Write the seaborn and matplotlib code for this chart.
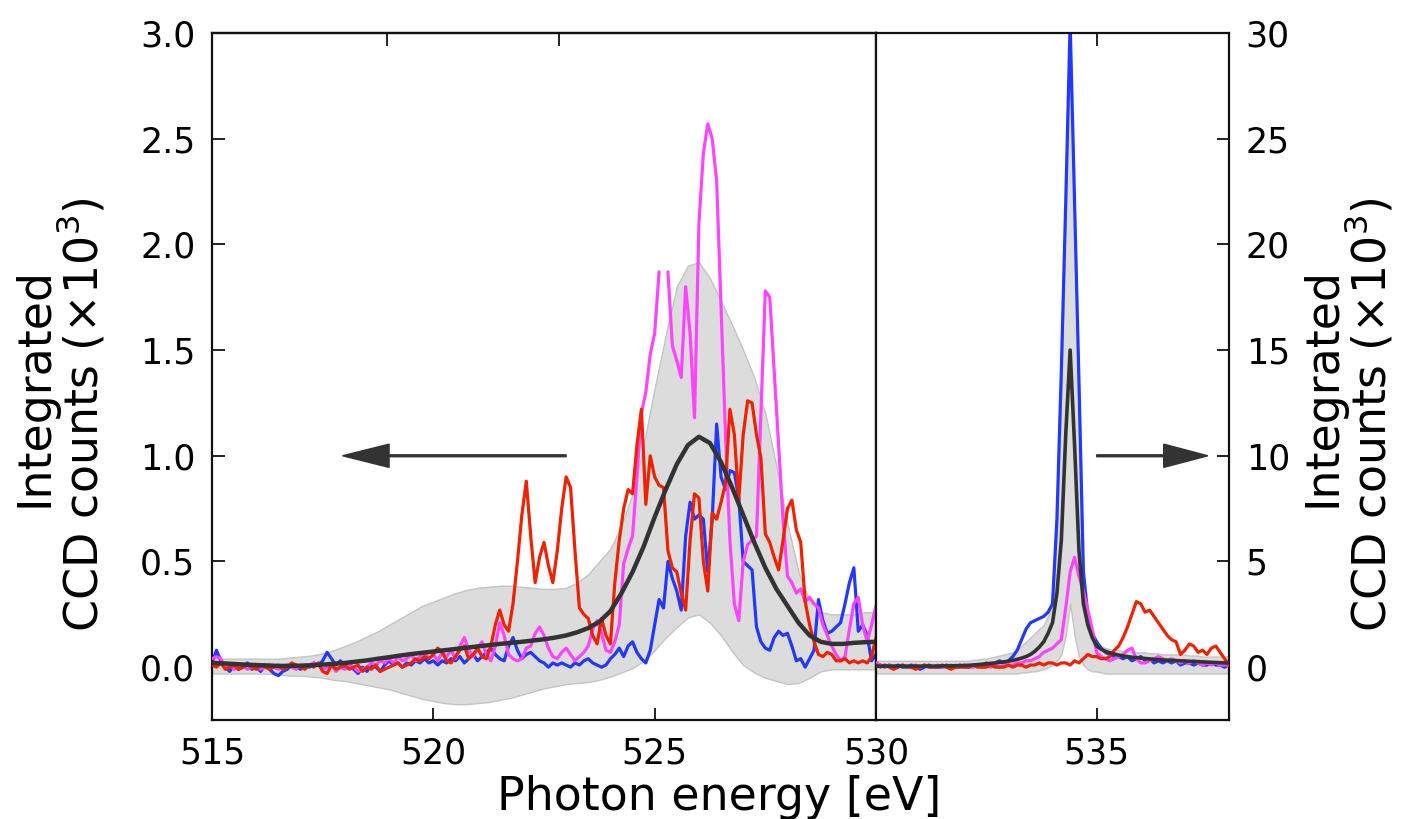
import numpy as np
import pandas as pd
import matplotlib
matplotlib.use("Agg")
import matplotlib.pyplot as plt
import seaborn as sns

# ---------------- data ----------------
energy_left = np.round(np.arange(515.0, 530.05, 0.1), 1)        # 151 points
energy_left_smooth = np.round(np.arange(515.0, 530.01, 0.25), 2)  # 61 points
energy_right = np.round(np.arange(530.0, 538.05, 0.1), 1)       # 81 points

blue_left = [
    0.02, 0.08, 0.03, 0.00, -0.02, 0.01, -0.01, 0.00, 0.02, -0.01,
    0.00, -0.02, 0.01, -0.01, -0.03, -0.04, -0.02, -0.01, 0.01, 0.00,
    -0.01, 0.01, 0.00, 0.02, 0.01, 0.03, 0.07, 0.04, 0.01, 0.03,
    0.00, 0.02, -0.01, -0.03, 0.00, -0.02, 0.01, 0.00, -0.02, 0.01,
    0.03, 0.01, 0.02, 0.00, 0.02, 0.01, 0.03, 0.02, 0.04, 0.02,
    0.03, 0.01, 0.03, 0.02, 0.04, 0.03, 0.05, 0.02, 0.04, 0.06,
    0.03, 0.05, 0.07, 0.09, 0.06, 0.04, 0.03, 0.10, 0.14, 0.08,
    0.04, 0.06, 0.07, 0.05, 0.03, 0.02, 0.00, 0.02, 0.01, 0.02,
    0.01, 0.00, 0.02, 0.01, 0.03, 0.04, 0.02, 0.01, 0.00, 0.01,
    0.04, 0.06, 0.09, 0.05, 0.10, 0.12, 0.07, 0.04, 0.02, 0.08,
    0.20, 0.32, 0.28, 0.50, 0.42, 0.36, 0.27, 0.62, 0.78, 0.70,
    0.72, 0.70, 0.45, 0.70, 1.15, 0.90, 0.84, 0.93, 0.92, 0.80,
    0.50, 0.48, 0.46, 0.19, 0.12, 0.09, 0.08, 0.14, 0.17, 0.15,
    0.16, 0.10, 0.03, 0.04, 0.00, 0.04, 0.08, 0.32, 0.22, 0.16,
    0.17, 0.19, 0.21, 0.30, 0.40, 0.47, 0.17, 0.20, 0.15, 0.03,
    0.06,
]

magenta_left = [
    0.04, 0.05, 0.04, 0.00, 0.01, -0.01, 0.00, 0.01, -0.01, 0.00,
    0.01, -0.01, 0.00, 0.01, 0.00, -0.01, 0.00, 0.01, 0.00, -0.01,
    0.01, 0.00, 0.01, 0.02, 0.01, -0.01, 0.00, 0.01, -0.02, 0.00,
    -0.01, 0.01, 0.00, -0.02, -0.01, 0.00, 0.02, 0.01, 0.03, 0.02,
    0.04, 0.02, 0.05, 0.03, 0.04, 0.06, 0.03, 0.05, 0.07, 0.04,
    0.06, 0.03, 0.07, 0.05, 0.08, 0.04, 0.10, 0.14, 0.08, 0.05,
    0.09, 0.12, 0.06, 0.03, 0.10, 0.21, 0.15, 0.06, 0.04, 0.03,
    0.04, 0.09, 0.10, 0.16, 0.19, 0.15, 0.09, 0.05, 0.04, 0.07,
    0.09, 0.06, 0.03, 0.05, 0.07, 0.10, 0.18, 0.22, 0.16, 0.08,
    0.07, 0.12, 0.20, 0.49, 0.56, 0.62, 0.90, 1.20, 1.30, 1.48,
    1.58, 1.87, np.nan, 1.87, 1.52, 1.45, 1.37, 1.80, 1.58, 1.18,
    2.10, 2.43, 2.57, 2.50, 2.30, 1.70, 1.10, 0.60, 0.30, 0.22,
    0.50, 0.58, 0.60, 0.62, 1.20, 1.78, 1.75, 1.40, 1.05, 0.70,
    0.43, 0.40, 0.35, 0.37, 0.31, 0.33, 0.30, 0.28, 0.20, 0.15,
    0.10, 0.06, 0.03, 0.05, 0.18, 0.30, 0.33, 0.20, 0.12, 0.20,
    0.29,
]

red_left = [
    0.01, 0.00, 0.02, -0.01, 0.00, 0.01, -0.01, 0.00, 0.01, 0.00,
    -0.01, 0.01, 0.00, -0.01, 0.00, 0.01, -0.01, 0.00, 0.02, 0.01,
    0.00, -0.01, 0.01, 0.00, 0.02, -0.02, -0.03, 0.01, -0.01, 0.00,
    0.01, -0.01, 0.00, 0.01, -0.02, 0.00, -0.01, 0.01, -0.02, -0.01,
    0.00, 0.01, 0.02, 0.00, 0.01, 0.02, 0.04, 0.03, 0.05, 0.04,
    0.06, 0.09, 0.07, 0.03, 0.02, 0.05, 0.08, 0.10, 0.04, 0.06,
    0.09, 0.05, 0.04, 0.10, 0.20, 0.27, 0.20, 0.17, 0.30, 0.50,
    0.72, 0.88, 0.62, 0.40, 0.52, 0.59, 0.48, 0.40, 0.55, 0.75,
    0.90, 0.85, 0.55, 0.28, 0.25, 0.23, 0.15, 0.11, 0.23, 0.15,
    0.11, 0.40, 0.60, 0.75, 0.84, 0.82, 1.05, 1.22, 0.77, 1.00,
    0.90, 0.86, 0.85, 0.55, 0.47, 0.45, 0.35, 0.27, 0.60, 0.82,
    0.80, 0.50, 0.36, 0.73, 0.70, 0.78, 0.87, 1.22, 1.10, 0.79,
    1.10, 1.26, 1.25, 1.10, 0.99, 0.63, 0.59, 0.52, 0.46, 0.60,
    0.75, 0.79, 0.65, 0.59, 0.31, 0.20, 0.12, 0.06, 0.05, 0.07,
    0.06, 0.03, 0.03, 0.04, 0.02, 0.03, 0.02, 0.03, 0.02, 0.05,
    0.14,
]

mean_left = [
    0.020, 0.018, 0.015, 0.012, 0.010,
    0.008, 0.006, 0.006, 0.007, 0.009,
    0.012, 0.016, 0.020, 0.026, 0.032,
    0.040, 0.047, 0.055, 0.062, 0.068,
    0.074, 0.080, 0.086, 0.092, 0.098,
    0.104, 0.110, 0.115, 0.120, 0.126,
    0.132, 0.140, 0.150, 0.165, 0.185,
    0.215, 0.265, 0.350, 0.450, 0.570,
    0.710, 0.840, 0.960, 1.050, 1.090,
    1.060, 0.970, 0.850, 0.720, 0.590,
    0.470, 0.370, 0.290, 0.210, 0.150,
    0.120, 0.110, 0.110, 0.115, 0.118,
    0.120,
]

upper_left = [
    0.040, 0.040, 0.040, 0.040, 0.040,
    0.040, 0.040, 0.045, 0.050, 0.055,
    0.065, 0.080, 0.100, 0.120, 0.145,
    0.170, 0.200, 0.230, 0.260, 0.290,
    0.310, 0.330, 0.350, 0.365, 0.375,
    0.380, 0.385, 0.385, 0.380, 0.375,
    0.370, 0.370, 0.375, 0.400, 0.440,
    0.500, 0.560, 0.670, 0.820, 1.050,
    1.320, 1.570, 1.800, 1.900, 1.915,
    1.840, 1.730, 1.620, 1.500, 1.370,
    1.200, 0.950, 0.680, 0.450, 0.310,
    0.260, 0.250, 0.250, 0.250, 0.260,
    0.260,
]

lower_left = [
    -0.030, -0.030, -0.030, -0.030, -0.030,
    -0.030, -0.035, -0.040, -0.040, -0.045,
    -0.050, -0.060, -0.065, -0.075, -0.085,
    -0.095, -0.105, -0.120, -0.135, -0.150,
    -0.160, -0.170, -0.175, -0.175, -0.170,
    -0.165, -0.155, -0.145, -0.130, -0.115,
    -0.100, -0.090, -0.080, -0.075, -0.070,
    -0.060, -0.045, -0.025, -0.005, 0.030,
    0.080, 0.140, 0.190, 0.235, 0.250,
    0.210, 0.150, 0.075, 0.010, -0.025,
    -0.050, -0.065, -0.080, -0.075, -0.050,
    -0.020, -0.010, -0.010, -0.010, -0.010,
    -0.010,
]

blue_right = [
    0.2, 0.1, 0.0, 0.1, 0.0, 0.1, 0.0, 0.0, 0.1, 0.0,
    -0.1, 0.0, 0.1, 0.0, 0.0, 0.0, 0.1, 0.0, 0.0, 0.1,
    0.0, 0.0, 0.1, 0.1, 0.0, 0.2, 0.1, 0.2, 0.3, 0.2,
    0.3, 0.5, 0.8, 1.3, 1.8, 2.1, 2.2, 2.3, 2.4, 2.6,
    3.0, 7.0, 14.0, 22.0, 30.5, 22.0, 13.5, 4.5, 2.5, 1.6,
    1.2, 0.9, 0.7, 0.6, 0.5, 0.5, 0.4, 0.5, 0.3, 0.4,
    0.5, 0.3, 0.4, 0.2, 0.3, 0.2, 0.3, 0.2, 0.3, 0.1,
    0.2, 0.2, 0.1, 0.2, 0.1, 0.1, 0.2, 0.1, 0.1, 0.0,
    0.1,
]

magenta_right = [
    0.2, 0.1, 0.0, 0.1, 0.0, 0.0, 0.1, 0.0, 0.0, 0.1,
    0.0, 0.1, 0.0, 0.0, 0.1, 0.0, 0.0, 0.1, 0.0, 0.0,
    0.1, 0.0, 0.0, 0.1, 0.0, 0.1, 0.0, 0.1, 0.0, 0.1,
    0.1, 0.1, 0.2, 0.2, 0.3, 0.3, 0.4, 0.5, 0.7, 0.8,
    0.9, 1.1, 1.3, 2.8, 4.5, 5.2, 4.3, 3.6, 2.7, 1.8,
    0.7, 0.5, 0.4, 0.3, 0.4, 0.5, 0.6, 0.8, 0.9, 0.4,
    0.2, 0.2, 0.3, 0.4, 0.5, 0.4, 0.3, 0.4, 0.3, 0.2,
    0.3, 0.2, 0.3, 0.2, 0.1, 0.2, 0.1, 0.2, 0.1, 0.1,
    0.1,
]

red_right = [
    0.1, 0.0, 0.1, 0.0, -0.1, 0.0, 0.1, 0.0, 0.0, -0.1,
    0.0, 0.1, 0.0, 0.0, 0.0, 0.1, 0.0, -0.1, 0.0, 0.0,
    0.0, 0.0, 0.1, 0.0, 0.0, 0.0, 0.1, 0.0, 0.0, 0.0,
    0.1, 0.0, 0.1, 0.1, 0.0, 0.1, 0.1, 0.2, 0.1, 0.2,
    0.2, 0.1, 0.2, 0.2, 0.1, 0.3, 0.2, 0.4, 0.6, 0.5,
    0.5, 0.4, 0.4, 0.5, 0.8, 1.0, 1.4, 1.9, 2.5, 3.1,
    3.0, 2.6, 2.7, 2.4, 2.1, 1.8, 1.5, 1.3, 1.2, 0.6,
    0.8, 1.1, 1.0, 0.7, 0.8, 0.6, 0.9, 1.0, 0.7, 0.4,
    0.1,
]

mean_right = [
    0.05, 0.05, 0.05, 0.05, 0.05, 0.05, 0.05, 0.05, 0.05, 0.05,
    0.05, 0.05, 0.05, 0.05, 0.05, 0.06, 0.06, 0.06, 0.07, 0.07,
    0.08, 0.09, 0.10, 0.12, 0.14, 0.16, 0.18, 0.20, 0.22, 0.25,
    0.28, 0.32, 0.37, 0.43, 0.50, 0.60, 0.75, 0.95, 1.20, 1.60,
    2.10, 3.50, 6.00, 11.0, 15.0, 10.5, 5.50, 3.00, 2.00, 1.40,
    1.00, 0.85, 0.75, 0.68, 0.62, 0.57, 0.53, 0.50, 0.47, 0.45,
    0.43, 0.41, 0.39, 0.37, 0.35, 0.34, 0.33, 0.32, 0.31, 0.30,
    0.29, 0.28, 0.27, 0.26, 0.25, 0.24, 0.23, 0.22, 0.21, 0.20,
    0.20,
]

upper_right = [
    0.3, 0.3, 0.3, 0.3, 0.3, 0.3, 0.3, 0.3, 0.3, 0.3,
    0.3, 0.3, 0.3, 0.3, 0.3, 0.3, 0.3, 0.3, 0.3, 0.3,
    0.3, 0.3, 0.35, 0.35, 0.4, 0.4, 0.45, 0.5, 0.55, 0.6,
    0.65, 0.7, 0.8, 1.0, 1.2, 1.4, 1.6, 1.8, 2.0, 2.4,
    3.0, 6.5, 13.5, 21.5, 29.5, 21.0, 13.0, 4.5, 2.3, 1.5,
    1.2, 1.0, 0.9, 0.85, 0.8, 0.8, 0.75, 0.75, 0.7, 0.7,
    0.7, 0.7, 0.65, 0.65, 0.65, 0.6, 0.6, 0.6, 0.6, 0.6,
    0.6, 0.55, 0.55, 0.55, 0.5, 0.5, 0.5, 0.5, 0.5, 0.5,
    0.5,
]

lower_right = [
    -0.3, -0.3, -0.3, -0.3, -0.3, -0.3, -0.3, -0.3, -0.3, -0.3,
    -0.3, -0.3, -0.3, -0.3, -0.3, -0.3, -0.3, -0.3, -0.3, -0.3,
    -0.3, -0.3, -0.3, -0.3, -0.3, -0.3, -0.3, -0.3, -0.3, -0.3,
    -0.3, -0.3, -0.3, -0.25, -0.25, -0.2, -0.2, -0.15, -0.1, 0.0,
    0.1, 0.3, 0.6, 1.5, 3.0, 1.5, 0.5, 0.1, -0.1, -0.2,
    -0.2, -0.25, -0.3, -0.3, -0.3, -0.3, -0.3, -0.3, -0.3, -0.3,
    -0.3, -0.3, -0.3, -0.3, -0.3, -0.3, -0.3, -0.3, -0.3, -0.3,
    -0.3, -0.3, -0.3, -0.3, -0.3, -0.3, -0.3, -0.3, -0.3, -0.3,
    -0.3,
]

left_xticks = [515, 520, 525, 530]
left_yticks = [0.0, 0.5, 1.0, 1.5, 2.0, 2.5, 3.0]
right_xticks = [535]
right_yticks = [0, 5, 10, 15, 20, 25, 30]

xlabel_text = "Photon energy [eV]"
ylabel_line1 = "Integrated"
ylabel_line2 = "CCD counts $(\\times10^{3})$"

# ---------------- style ----------------
sns.set_style("ticks")
plt.rcParams['font.family'] = ['DejaVu Sans']
plt.rcParams['mathtext.fontset'] = 'dejavusans'
plt.rcParams['text.color'] = 'black'
plt.rcParams['axes.labelcolor'] = 'black'
plt.rcParams['xtick.color'] = 'black'
plt.rcParams['ytick.color'] = 'black'

C_BLUE = '#2238ff'
C_MAG = '#ff44ff'
C_RED = '#ee2200'
C_MEAN = '#333333'
C_BAND = '#dcdcdc'
C_BAND_EDGE = '#c4c4c4'

TICK_FS = 25
LABEL_FS = 33
XLABEL_FS = 33

W, H = 1410, 819
fig = plt.figure(figsize=(W / 100, H / 100), dpi=100)
axL = fig.add_axes([212 / W, 99 / H, 664 / W, 687 / H])
axR = fig.add_axes([876 / W, 99 / H, 353 / W, 687 / H])


def draw_line(ax, x, y, color, lw, z):
    df = pd.DataFrame({'E': x, 'v': y})
    df['seg'] = df['v'].isna().cumsum()
    df = df.dropna()
    sns.lineplot(data=df, x='E', y='v', units='seg', estimator=None,
                 color=color, lw=lw, ax=ax, legend=False, sort=False,
                 zorder=z)


# left panel
axL.fill_between(energy_left_smooth, lower_left, upper_left,
                 facecolor=C_BAND, edgecolor=C_BAND_EDGE, lw=1.0, zorder=1)
draw_line(axL, energy_left, blue_left, C_BLUE, 2.3, 2)
draw_line(axL, energy_left, magenta_left, C_MAG, 2.3, 3)
draw_line(axL, energy_left, red_left, C_RED, 2.3, 4)
draw_line(axL, energy_left_smooth, mean_left, C_MEAN, 3.2, 5)

# right panel
axR.fill_between(energy_right, lower_right, upper_right,
                 facecolor=C_BAND, edgecolor=C_BAND_EDGE, lw=1.0, zorder=1)
draw_line(axR, energy_right, blue_right, C_BLUE, 2.3, 2)
draw_line(axR, energy_right, magenta_right, C_MAG, 2.3, 3)
draw_line(axR, energy_right, red_right, C_RED, 2.3, 4)
draw_line(axR, energy_right, mean_right, C_MEAN, 2.6, 5)

# arrows
axL.arrow(523.0, 1.0, -5.05, 0, width=0.009, head_width=0.11,
          head_length=1.05, length_includes_head=True,
          color=C_MEAN, zorder=6)
axR.arrow(535.0, 10.0, 2.52, 0, width=0.09, head_width=1.1,
          head_length=1.0, length_includes_head=True,
          color=C_MEAN, zorder=6)

# axes cosmetics
axL.set_xlim(515, 530)
axL.set_ylim(-0.25, 3.0)
axR.set_xlim(530, 538)
axR.set_ylim(-2.5, 30)

axL.set_xticks(left_xticks)
axL.set_xticklabels([str(t) for t in left_xticks])
axL.set_yticks(left_yticks)
axL.set_yticklabels([f"{t:.1f}" for t in left_yticks])
axL.tick_params(axis='both', direction='in', length=9, width=1.4,
                labelsize=TICK_FS, pad=12, top=False, right=False,
                colors='#222222', labelcolor='black')
sec = axL.secondary_xaxis('top')
sec.set_xticks([518.95, 522.85])
sec.set_xticklabels([])
sec.tick_params(direction='in', length=9, width=1.4, colors='#222222')

axR.set_xticks(right_xticks)
axR.set_xticklabels([str(t) for t in right_xticks])
axR.set_yticks(right_yticks)
axR.set_yticklabels([str(t) for t in right_yticks])
axR.tick_params(axis='x', direction='in', length=9, width=1.4,
                labelsize=TICK_FS, pad=12, top=True, bottom=True,
                colors='#222222', labelcolor='black')
axR.tick_params(axis='y', direction='in', length=9, width=1.4,
                labelsize=TICK_FS, pad=12, left=False, right=True,
                labelleft=False, labelright=True,
                colors='#222222', labelcolor='black')

for ax in (axL, axR):
    ax.set_xlabel('')
    ax.set_ylabel('')
    for sp in ax.spines.values():
        sp.set_visible(True)
        sp.set_linewidth(1.6)
        sp.set_color('#111111')
    ax.set_facecolor('white')
sec.spines['top'].set_linewidth(1.6)
sec.spines['top'].set_color('#111111')

# labels
fig.text(719 / W, 1 - 797 / H, xlabel_text, ha='center', va='center',
         fontsize=XLABEL_FS)
fig.text(35 / W, 1 - 387 / H, ylabel_line1, rotation=90, ha='center',
         va='center', fontsize=LABEL_FS)
fig.text(82 / W, 1 - 415 / H, ylabel_line2, rotation=90, ha='center',
         va='center', fontsize=LABEL_FS)
fig.text(1323 / W, 1 - 387 / H, ylabel_line1, rotation=90, ha='center',
         va='center', fontsize=LABEL_FS)
fig.text(1370 / W, 1 - 415 / H, ylabel_line2, rotation=90, ha='center',
         va='center', fontsize=LABEL_FS)

fig.savefig('out.png', dpi=100, facecolor='white')
